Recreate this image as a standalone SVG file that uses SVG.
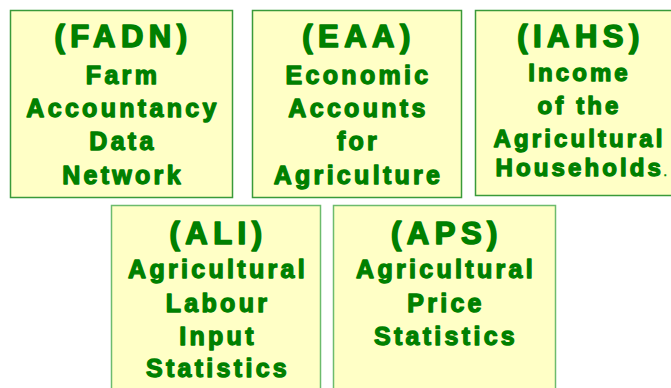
<svg xmlns="http://www.w3.org/2000/svg" width="671" height="388" viewBox="0 0 671 388">
<style>
.box{fill:#FFFFC6;stroke-width:1.5}
.top{stroke:#3A9A3A}
.bot{stroke:#6DBB6D}
text{font-family:"Liberation Sans",Arial,sans-serif;font-weight:bold;fill:#008000;stroke:#008000;stroke-linejoin:round;text-anchor:middle}
.t{font-size:31px;letter-spacing:5.5px;stroke-width:1.6px}
.b{font-size:25px;letter-spacing:3.3px;stroke-width:1.3px}
.s{font-size:24px;letter-spacing:3.1px;stroke-width:1.3px}
</style>
<rect width="671" height="388" fill="#FFFFFF"/>
<g id="connectors"></g>
<g id="fadn">
<rect class="box top" x="10.5" y="10.5" width="222" height="187"/>
<text class="t" x="123.5" y="47">(FADN)</text>
<text class="b" x="123" y="84">Farm</text>
<text class="b" x="123" y="117">Accountancy</text>
<text class="b" x="123" y="150">Data</text>
<text class="b" x="123" y="184">Network</text>
</g>
<g id="eaa">
<rect class="box top" x="252.5" y="10.5" width="209" height="187"/>
<text class="t" x="359" y="47">(EAA)</text>
<text class="b" x="358.5" y="84">Economic</text>
<text class="b" x="358.5" y="117">Accounts</text>
<text class="b" x="358.5" y="150">for</text>
<text class="b" x="358.5" y="184">Agriculture</text>
</g>
<g id="iahs">
<rect class="box top" x="475.5" y="10.5" width="210" height="185"/>
<text class="t" x="581" y="47">(IAHS)</text>
<text class="s" x="579.5" y="81">Income</text>
<text class="s" x="579.5" y="114">of the</text>
<text class="s" x="579.5" y="147">Agricultural</text>
<text class="s" x="581" y="176">Households<tspan style="font-size:9px;letter-spacing:0;stroke-width:0.5px">.</tspan></text>
</g>
<g id="ali">
<rect class="box bot" x="111.5" y="205.5" width="209" height="200"/>
<text class="t" x="218.5" y="244">(ALI)</text>
<text class="b" x="218" y="278">Agricultural</text>
<text class="b" x="218" y="312">Labour</text>
<text class="b" x="218" y="345">Input</text>
<text class="b" x="218" y="377">Statistics</text>
</g>
<g id="aps">
<rect class="box bot" x="333.5" y="205.5" width="222" height="200"/>
<text class="t" x="447" y="244">(APS)</text>
<text class="b" x="446" y="278">Agricultural</text>
<text class="b" x="446" y="312">Price</text>
<text class="b" x="446" y="345">Statistics</text>
</g>
</svg>
